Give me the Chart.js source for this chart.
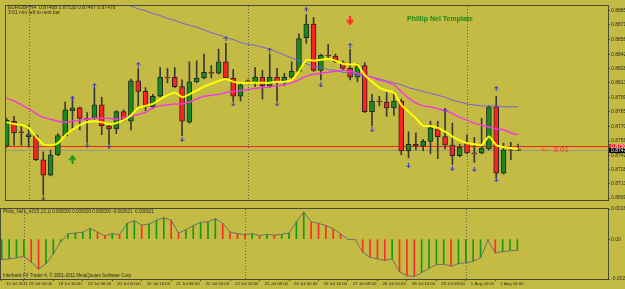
<!DOCTYPE html>
<html>
<head>
<meta charset="utf-8">
<title>EURGBP,H4</title>
<script src="https://cdn.jsdelivr.net/npm/chart.js@4.4.1/dist/chart.umd.min.js"></script>
<style>
  html, body { margin: 0; padding: 0; background: #c4bb45; }
  #wrap { position: relative; width: 625px; height: 289px; overflow: hidden; background: #c4bb45; }
  #wrap canvas { position: absolute; left: 0; }
  #mainChart { top: 0; }
  #aoChart { top: 205px; }
</style>
</head>
<body>
<div id="wrap">
  <canvas id="mainChart" width="625" height="206"></canvas>
  <canvas id="aoChart" width="625" height="84"></canvas>
</div>
<script>
/* EURGBP H4 with the Phillip Nel template, redrawn with Chart.js */

const symbolName = "EURGBP,H4";
const templateName = "Phillip Nel Template";
const timeLeft = "3:01";
const aoName = "Philip_Nel's_AO(5,13,1) 0.000000 0.000000 0.000000 -0.000621 -0.000621";
const copyright = "Interbank FX Trader 4, \u00a9 2001-2011 MetaQuotes Software Corp.";

// time axis: bar number of each label, and the label text
const timeTickBars = [0, 3, 7, 11, 15, 19, 23, 27, 31, 35, 39, 43, 47, 51, 55, 59, 63, 67];
const timeLabels = ["15 Jul 2011", "18 Jul 00:00", "18 Jul 16:00", "19 Jul 08:00", "20 Jul 00:00",
    "20 Jul 16:00", "21 Jul 08:00", "22 Jul 00:00", "22 Jul 16:00", "25 Jul 08:00", "26 Jul 00:00",
    "26 Jul 16:00", "27 Jul 08:00", "28 Jul 00:00", "28 Jul 16:00", "29 Jul 08:00", "1 Aug 00:00",
    "1 Aug 16:00"];
// first bar of each week (dotted separators)
const weekStartBars = [3, 33, 63];

// candles
const opens = [0.87509, 0.87756, 0.87652, 0.87604, 0.87614, 0.87375, 0.87223, 0.87424, 0.87614, 0.87861,
    0.87889, 0.87785, 0.87785, 0.87918, 0.87709, 0.87680, 0.87851, 0.87756, 0.88155, 0.88051,
    0.87899, 0.88003, 0.88193, 0.88193, 0.88098, 0.87747, 0.88146, 0.88184, 0.88241, 0.88231,
    0.88345, 0.88184, 0.88003, 0.88155, 0.88136, 0.88193, 0.88108, 0.88193, 0.88136, 0.88193,
    0.88250, 0.88584, 0.88717, 0.88260, 0.88412, 0.88402, 0.88336, 0.88279, 0.88193, 0.88307,
    0.87851, 0.87956, 0.87946, 0.87889, 0.87956, 0.87462, 0.87528, 0.87509, 0.87557, 0.87680,
    0.87604, 0.87519, 0.87414, 0.87538, 0.87443, 0.87443, 0.87481, 0.87899, 0.87242, 0.87471,
    0.87468];
const highs = [0.87785, 0.87804, 0.87709, 0.87718, 0.87623, 0.87452, 0.87471, 0.87633, 0.87946, 0.87994,
    0.87899, 0.87842, 0.88089, 0.87994, 0.87718, 0.87861, 0.87870, 0.88174, 0.88279, 0.88089,
    0.88022, 0.88288, 0.88279, 0.88288, 0.88165, 0.88345, 0.88355, 0.88421, 0.88307, 0.88470,
    0.88527, 0.88269, 0.88136, 0.88165, 0.88288, 0.88260, 0.88421, 0.88279, 0.88231, 0.88345,
    0.88622, 0.88812, 0.88783, 0.88421, 0.88517, 0.88421, 0.88355, 0.88470, 0.88326, 0.88336,
    0.88022, 0.88003, 0.88041, 0.88051, 0.87975, 0.87652, 0.87642, 0.87576, 0.87756, 0.87756,
    0.87880, 0.87737, 0.87528, 0.87623, 0.87595, 0.87785, 0.87908, 0.88003, 0.87538, 0.87548,
    0.87530];
const lows = [0.87500, 0.87519, 0.87519, 0.87500, 0.87366, 0.87024, 0.87214, 0.87414, 0.87604, 0.87690,
    0.87671, 0.87547, 0.87775, 0.87623, 0.87528, 0.87633, 0.87756, 0.87671, 0.87899, 0.87861,
    0.87880, 0.87994, 0.88136, 0.88089, 0.87614, 0.87737, 0.88136, 0.88174, 0.88184, 0.88222,
    0.88174, 0.87956, 0.87956, 0.88136, 0.88098, 0.87975, 0.88089, 0.87956, 0.88108, 0.88165,
    0.88241, 0.88527, 0.88250, 0.88165, 0.88383, 0.88336, 0.88260, 0.88165, 0.88146, 0.87842,
    0.87709, 0.87908, 0.87804, 0.87813, 0.87424, 0.87394, 0.87471, 0.87462, 0.87433, 0.87385,
    0.87481, 0.87328, 0.87404, 0.87433, 0.87347, 0.87433, 0.87471, 0.87195, 0.87233, 0.87375,
    0.87467];
const closes = [0.87766, 0.87642, 0.87642, 0.87623, 0.87375, 0.87223, 0.87424, 0.87614, 0.87870, 0.87889,
    0.87785, 0.87775, 0.87918, 0.87709, 0.87680, 0.87851, 0.87766, 0.88155, 0.88051, 0.87899,
    0.88003, 0.88193, 0.88184, 0.88098, 0.87756, 0.88146, 0.88184, 0.88241, 0.88231, 0.88345,
    0.88184, 0.88003, 0.88117, 0.88146, 0.88193, 0.88108, 0.88193, 0.88146, 0.88193, 0.88250,
    0.88574, 0.88717, 0.88260, 0.88412, 0.88402, 0.88345, 0.88279, 0.88193, 0.88298, 0.87851,
    0.87956, 0.87946, 0.87889, 0.87956, 0.87462, 0.87528, 0.87509, 0.87557, 0.87690, 0.87604,
    0.87519, 0.87414, 0.87500, 0.87443, 0.87433, 0.87490, 0.87899, 0.87242, 0.87471, 0.87468,
    0.87476];

// moving averages (yellow, magenta, blue)
const maFast = [0.87747, 0.87728, 0.87718, 0.87690, 0.87604, 0.87528, 0.87519, 0.87538, 0.87614, 0.87671,
    0.87718, 0.87747, 0.87756, 0.87747, 0.87728, 0.87737, 0.87766, 0.87813, 0.87889, 0.87908,
    0.87927, 0.87975, 0.88013, 0.88041, 0.87994, 0.88022, 0.88060, 0.88098, 0.88127, 0.88155,
    0.88174, 0.88146, 0.88136, 0.88136, 0.88136, 0.88136, 0.88136, 0.88146, 0.88146, 0.88165,
    0.88250, 0.88364, 0.88355, 0.88364, 0.88374, 0.88355, 0.88326, 0.88317, 0.88317, 0.88212,
    0.88146, 0.88089, 0.88060, 0.88041, 0.87918, 0.87851, 0.87785, 0.87709, 0.87709, 0.87690,
    0.87652, 0.87604, 0.87566, 0.87538, 0.87528, 0.87519, 0.87604, 0.87519, 0.87500, 0.87490,
    0.87481];
const maMid = [0.87984, 0.87956, 0.87918, 0.87880, 0.87832, 0.87794, 0.87775, 0.87756, 0.87747, 0.87756,
    0.87766, 0.87775, 0.87785, 0.87785, 0.87785, 0.87775, 0.87794, 0.87804, 0.87823, 0.87842,
    0.87889, 0.87908, 0.87918, 0.87927, 0.87927, 0.87946, 0.87975, 0.88003, 0.88013, 0.88022,
    0.88041, 0.88051, 0.88060, 0.88070, 0.88079, 0.88089, 0.88098, 0.88108, 0.88117, 0.88136,
    0.88165, 0.88203, 0.88222, 0.88231, 0.88241, 0.88250, 0.88260, 0.88250, 0.88231, 0.88212,
    0.88193, 0.88165, 0.88146, 0.88117, 0.88051, 0.87984, 0.87937, 0.87908, 0.87899, 0.87880,
    0.87861, 0.87832, 0.87794, 0.87766, 0.87737, 0.87718, 0.87699, 0.87680, 0.87671, 0.87642,
    0.87623];
const maSlow = [null, null, null, null, null, null, null, null, null, null,
    null, null, null, null, null, 0.88945, 0.88916, 0.88897, 0.88869, 0.88850,
    0.88821, 0.88802, 0.88774, 0.88755, 0.88726, 0.88707, 0.88688, 0.88660, 0.88631, 0.88612,
    0.88584, 0.88565, 0.88536, 0.88517, 0.88508, 0.88489, 0.88470, 0.88441, 0.88412, 0.88383,
    0.88355, 0.88326, 0.88298, 0.88288, 0.88269, 0.88260, 0.88241, 0.88231, 0.88212, 0.88203,
    0.88193, 0.88174, 0.88155, 0.88136, 0.88117, 0.88089, 0.88070, 0.88051, 0.88032, 0.88013,
    0.87994, 0.87965, 0.87946, 0.87927, 0.87918, 0.87908, 0.87908, 0.87908, 0.87899, 0.87899,
    0.87899];

// fractals and signal arrows
const upFractalBars = [9, 12, 18, 30, 36, 41, 47, 60, 67];
const upFractalPrices = [0.87984, 0.88108, 0.88317, 0.88574, 0.88460, 0.88859, 0.88508, 0.87861, 0.88079];
const downFractalBars = [5, 11, 14, 24, 31, 37, 43, 50, 55, 61, 64, 67];
const downFractalPrices = [0.86995, 0.87519, 0.87509, 0.87576, 0.87927, 0.87927, 0.88117, 0.87671, 0.87318,
    0.87290, 0.87280, 0.87176];
const buyBars = [9];
const buyPrices = [0.87375];
const sellBars = [47];
const sellPrices = [0.88755];

const bidPrice = 0.87476;
const askPrice = 0.87506;
const priceTicks = [0.88850, 0.88710, 0.88565, 0.88420, 0.88280, 0.88135, 0.87990, 0.87850, 0.87705,
    0.87560, 0.87420, 0.87280, 0.87135, 0.86995];
const priceMin = 0.86976;
const priceMax = 0.88897;

// AO histogram
const aoValues = [-0.00115, -0.00110, -0.00104, -0.00096, -0.00128, -0.00167, -0.00137, -0.00083, -0.00015, 0.00029,
    0.00034, 0.00039, 0.00061, 0.00039, 0.00018, 0.00031, 0.00025, 0.00088, 0.00103, 0.00079,
    0.00084, 0.00106, 0.00120, 0.00106, 0.00034, 0.00052, 0.00076, 0.00093, 0.00097, 0.00115,
    0.00088, 0.00039, 0.00031, 0.00025, 0.00031, 0.00020, 0.00027, 0.00022, 0.00027, 0.00034,
    0.00097, 0.00151, 0.00097, 0.00088, 0.00076, 0.00058, 0.00029, -0.00002, -0.00003, -0.00074,
    -0.00101, -0.00110, -0.00119, -0.00110, -0.00182, -0.00205, -0.00209, -0.00187, -0.00164, -0.00142,
    -0.00140, -0.00151, -0.00137, -0.00131, -0.00124, -0.00104, -0.00007, -0.00077, -0.00070, -0.00065,
    -0.00062];
const aoTicks = [0.001684, 0, -0.002227];
const aoLabels = ["0.001684", "0.00", "-0.002227"];

/* colours */
const bullColor = "#1b8a1b";
const bearColor = "#ff2020";
const outlineColor = "#262626";
const wickColor = "#3a3a34";
const fastColor = "#ffff00";
const midColor = "#f03cdc";
const slowColor = "#6f5fe0";
const fractalColor = "#3434c0";
const frameColor = "#4a4a3c";
const textColor = "#2a2a22";
const askColor = "#ff2020";
const bidLineColor = "#9a9a88";

const xMin = -0.1;
const xMax = 82.3;

Chart.defaults.font.family = "'Liberation Sans', Arial, sans-serif";

const bars = opens.map((_, i) => i);
const candleColors = bars.map((i) => closes[i] >= opens[i] ? bullColor : bearColor);
const aoColors = aoValues.map((v, i) => (i === 0 || v > aoValues[i - 1]) ? "#149a14" : "#ff2a2a");

function pointsOf(xs, ys) {
    return xs.map((x, i) => ({ x: x, y: ys[i] }));
}

/* small arrow images used as point styles */
function arrowImage(color, up, w, h, lw) {
    const c = document.createElement("canvas");
    c.width = w;
    c.height = h;
    const g = c.getContext("2d");
    g.strokeStyle = color;
    g.lineWidth = lw;
    const mid = w / 2;
    const head = Math.floor(w / 2);
    const e = lw / 2;
    g.beginPath();
    if (up) {
        g.moveTo(e, head + e);
        g.lineTo(mid, e);
        g.lineTo(w - e, head + e);
        g.moveTo(mid, e);
        g.lineTo(mid, h);
    } else {
        g.moveTo(e, h - head - e);
        g.lineTo(mid, h - e);
        g.lineTo(w - e, h - head - e);
        g.moveTo(mid, h - e);
        g.lineTo(mid, 0);
    }
    g.stroke();
    return c;
}

const upFractalImg = arrowImage(fractalColor, true, 5, 5, 1);
const downFractalImg = arrowImage(fractalColor, false, 5, 5, 1);
const buyImg = arrowImage("#1d9a1d", true, 8, 9, 2);
const sellImg = arrowImage("#ff2a2a", false, 8, 9, 2);

function drawFrame(chart) {
    const { ctx, chartArea: a } = chart;
    ctx.save();
    ctx.strokeStyle = frameColor;
    ctx.lineWidth = 1;
    ctx.strokeRect(a.left - 0.5, a.top - 0.5, a.right - a.left + 1, a.bottom - a.top + 1);
    ctx.restore();
}

function drawSeparators(chart) {
    const { ctx, chartArea: a, scales: { x } } = chart;
    ctx.save();
    ctx.strokeStyle = "#5e5e4c";
    ctx.lineWidth = 1;
    ctx.setLineDash([1, 2]);
    weekStartBars.forEach((b) => {
        const px = Math.round(x.getPixelForValue(b)) + 0.5;
        ctx.beginPath();
        ctx.moveTo(px, a.top);
        ctx.lineTo(px, a.bottom);
        ctx.stroke();
    });
    ctx.restore();
}

function drawPriceLine(chart, price, color) {
    const { ctx, chartArea: a, scales: { y } } = chart;
    const py = Math.round(y.getPixelForValue(price)) + 0.5;
    ctx.save();
    ctx.strokeStyle = color;
    ctx.lineWidth = 1;
    ctx.beginPath();
    ctx.moveTo(a.left, py);
    ctx.lineTo(a.right, py);
    ctx.stroke();
    ctx.restore();
}

function drawPriceBox(chart, price, bg, fg) {
    const { ctx, chartArea: a, scales: { y } } = chart;
    const py = Math.round(y.getPixelForValue(price));
    ctx.save();
    ctx.fillStyle = bg;
    ctx.fillRect(a.right + 1, py - 2, chart.width - a.right, 5);
    ctx.fillStyle = fg;
    ctx.font = "5px 'Liberation Sans'";
    ctx.textBaseline = "middle";
    ctx.fillText(price.toFixed(5), a.right + 3, py + 0.5);
    ctx.restore();
}

const mainOverlay = {
    id: "mainOverlay",
    beforeDatasetsDraw(chart) {
        drawSeparators(chart);
        drawPriceLine(chart, askPrice, askColor);
        drawPriceLine(chart, bidPrice, bidLineColor);
    },
    afterDraw(chart) {
        drawFrame(chart);
        drawPriceBox(chart, askPrice, askColor, "#ffffff");
        drawPriceBox(chart, bidPrice, "#000000", "#ffffff");
        const { ctx, chartArea: a, scales: { x, y } } = chart;
        const last = opens.length - 1;
        ctx.save();
        ctx.textBaseline = "middle";
        ctx.fillStyle = textColor;
        ctx.font = "5px 'Liberation Sans'";
        ctx.fillText(symbolName + "  " + opens[last].toFixed(5) + " " + highs[last].toFixed(5) + " " +
            lows[last].toFixed(5) + " " + closes[last].toFixed(5), a.left + 2, a.top + 2);
        ctx.fillText(timeLeft + " min left to next bar", a.left + 2, a.top + 7);
        ctx.font = "bold 7px 'Liberation Sans'";
        ctx.fillStyle = "#1a8a1a";
        ctx.fillText(templateName, 407, 19);
        ctx.font = "8px 'Liberation Sans'";
        ctx.fillStyle = "#ff3030";
        ctx.fillText("<-- " + timeLeft, x.getPixelForValue(last) + 23, y.getPixelForValue(bidPrice));
        ctx.restore();
    }
};

const aoOverlay = {
    id: "aoOverlay",
    beforeDatasetsDraw(chart) {
        drawSeparators(chart);
    },
    afterDraw(chart) {
        drawFrame(chart);
        const { ctx, chartArea: a } = chart;
        ctx.save();
        ctx.textBaseline = "middle";
        ctx.fillStyle = textColor;
        ctx.font = "4.5px 'Liberation Sans'";
        ctx.fillText(aoName, a.left + 2, a.top + 3);
        ctx.fillText(copyright, a.left + 2, a.bottom - 3);
        ctx.restore();
    }
};

new Chart(document.getElementById("mainChart"), {
    type: "bar",
    data: {
        datasets: [
            { type: "line", label: "buy", data: pointsOf(buyBars, buyPrices), showLine: false,
              pointStyle: buyImg, pointRadius: 5, order: 0 },
            { type: "line", label: "sell", data: pointsOf(sellBars, sellPrices), showLine: false,
              pointStyle: sellImg, pointRadius: 5, order: 0 },
            { type: "line", label: "up fractals", data: pointsOf(upFractalBars, upFractalPrices), showLine: false,
              pointStyle: upFractalImg, pointRadius: 3, order: 1 },
            { type: "line", label: "down fractals", data: pointsOf(downFractalBars, downFractalPrices), showLine: false,
              pointStyle: downFractalImg, pointRadius: 3, order: 1 },
            { type: "line", label: "MA fast", data: pointsOf(bars, maFast), borderColor: fastColor,
              borderWidth: 2, pointRadius: 0, tension: 0.2, order: 2 },
            { type: "line", label: "MA mid", data: pointsOf(bars, maMid), borderColor: midColor,
              borderWidth: 1.5, pointRadius: 0, tension: 0.2, order: 3 },
            { type: "line", label: "MA slow", data: pointsOf(bars, maSlow), borderColor: slowColor,
              borderWidth: 1, pointRadius: 0, tension: 0.2, order: 4 },
            { label: "bodies", data: bars.map((i) => ({ x: i, y: [opens[i], closes[i]] })),
              backgroundColor: candleColors, borderColor: outlineColor, borderWidth: 1,
              borderSkipped: false, barThickness: 5, grouped: false, order: 5 },
            { label: "wicks", data: bars.map((i) => ({ x: i, y: [lows[i], highs[i]] })),
              backgroundColor: wickColor, barThickness: 1, grouped: false, order: 6 }
        ]
    },
    options: {
        responsive: false,
        animation: false,
        events: [],
        layout: { padding: { left: 1, top: 3, right: 0, bottom: 1 } },
        plugins: { legend: { display: false }, tooltip: { enabled: false } },
        scales: {
            x: { type: "linear", min: xMin, max: xMax, offset: false, display: false },
            y: {
                position: "right", min: priceMin, max: priceMax,
                afterFit: (s) => { s.width = 17; },
                afterBuildTicks: (s) => { s.ticks = priceTicks.map((v) => ({ value: v })); },
                ticks: { callback: (v) => v.toFixed(5), autoSkip: false, font: { size: 5 }, color: textColor, padding: 1 },
                grid: { drawOnChartArea: false, tickLength: 2, color: frameColor },
                border: { display: true, color: frameColor }
            }
        }
    },
    plugins: [mainOverlay]
});

new Chart(document.getElementById("aoChart"), {
    type: "bar",
    data: {
        datasets: [
            { type: "line", label: "AO line", data: pointsOf(bars, aoValues), borderColor: "#707068",
              borderWidth: 1, pointRadius: 0, order: 0 },
            { label: "AO", data: bars.map((i) => ({ x: i, y: [0, aoValues[i]] })),
              backgroundColor: aoColors, barThickness: 1, grouped: false, order: 1 }
        ]
    },
    options: {
        responsive: false,
        animation: false,
        events: [],
        layout: { padding: { left: 1, top: 2, right: 0, bottom: 0 } },
        plugins: { legend: { display: false }, tooltip: { enabled: false } },
        scales: {
            x: {
                type: "linear", min: xMin, max: xMax, offset: false, position: "bottom",
                afterFit: (s) => { s.height = 10; },
                afterBuildTicks: (s) => {
                    // the first label sits at the left edge of the window
                    s.ticks = timeTickBars.map((v, i) => ({ value: i === 0 ? xMin : v }));
                },
                ticks: { callback: (v, i) => timeLabels[i], autoSkip: false, maxRotation: 0,
                         align: "start", labelOffset: 5, padding: 0, font: { size: 4.3 }, color: textColor },
                grid: { drawOnChartArea: false, tickLength: 2, color: frameColor, offset: false },
                border: { display: false }
            },
            y: {
                position: "right", min: aoTicks[2], max: aoTicks[0],
                afterFit: (s) => { s.width = 17; },
                afterBuildTicks: (s) => { s.ticks = aoTicks.map((v) => ({ value: v })); },
                ticks: { callback: (v, i) => aoLabels[i], autoSkip: false, font: { size: 5 }, color: textColor, padding: 1 },
                grid: { drawOnChartArea: false, tickLength: 2, color: frameColor },
                border: { display: true, color: frameColor }
            }
        }
    },
    plugins: [aoOverlay]
});
</script>
</body>
</html>
